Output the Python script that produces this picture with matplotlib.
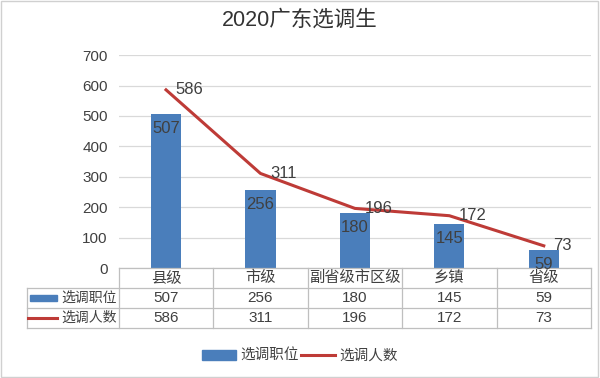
"""2020广东选调生：柱状图 + 折线 + 数据表。"""
import matplotlib
matplotlib.use("Agg")
import matplotlib.pyplot as plt
from matplotlib.patches import Rectangle
from matplotlib.lines import Line2D
from matplotlib.transforms import blended_transform_factory

plt.rcParams["font.family"] = ["Liberation Sans", "Noto Sans CJK SC", "DejaVu Sans"]

# 数据
categories = ["县级", "市级", "副省级市区级", "乡镇", "省级"]
positions = [507, 256, 180, 145, 59]   # 选调职位
people = [586, 311, 196, 172, 73]      # 选调人数
series_names = ["选调职位", "选调人数"]
y_ticks = [0, 100, 200, 300, 400, 500, 600, 700]

BLUE = "#4A7EBB"
RED = "#BE3B37"
GRID = "#D9D9D9"
TABLE_LINE = "#BFBFBF"
TEXT = "#404040"
FS = 11

fig = plt.figure(figsize=(6, 3.78), dpi=100)
ax = fig.add_axes([0.198, 0.291, 0.787, 0.563])

x = list(range(len(categories)))
ax.bar(x, positions, width=0.32, color=BLUE, zorder=2)
ax.plot(x, people, color=RED, linewidth=2.2, zorder=3)

for xi, v in zip(x, positions):
    ax.annotate(f"{v}", xy=(xi, v), xytext=(0, -5), textcoords="offset points",
                ha="center", va="top", fontsize=12, color=TEXT, zorder=4)
for xi, v in zip(x, people):
    ax.annotate(f"{v}", xy=(xi, v), xytext=(7, 0), textcoords="offset points",
                ha="left", va="center", fontsize=12, color=TEXT, zorder=4)

ax.set_xlim(-0.5, len(categories) - 0.5)
ax.set_ylim(0, 700)
ax.set_yticks(y_ticks)
ax.set_yticklabels([str(t) for t in y_ticks], fontsize=FS, color=TEXT)
ax.tick_params(axis="y", length=0, pad=8)
ax.set_xticks([])
ax.grid(axis="y", color=GRID, linewidth=0.9, zorder=0)
for s in ax.spines.values():
    s.set_visible(False)

fig.text(0.5, 0.947, "2020广东选调生", ha="center", va="center",
         fontsize=15.5, color="#333333")

# 数据表
tr = blended_transform_factory(ax.transData, ax.transAxes)
row_h = 0.094
left = -0.195
rows = [positions, people]

# 水平线
ax.plot([0, 1], [0, 0], transform=ax.transAxes, color=TABLE_LINE, lw=0.9, clip_on=False)
for k in range(1, 4):
    ax.plot([left, 1], [-k * row_h] * 2, transform=ax.transAxes,
            color=TABLE_LINE, lw=0.9, clip_on=False)
# 竖线
ax.plot([left, left], [-row_h, -3 * row_h], transform=ax.transAxes,
        color=TABLE_LINE, lw=0.9, clip_on=False)
for b in [i - 0.5 for i in range(len(categories) + 1)]:
    ax.plot([b, b], [0, -3 * row_h], transform=tr, color=TABLE_LINE, lw=0.9, clip_on=False)

for xi, c in zip(x, categories):
    ax.text(xi, -0.5 * row_h, c, transform=tr, ha="center", va="center",
            fontsize=FS, color=TEXT)
for r, vals in enumerate(rows):
    yc = -(r + 1.5) * row_h
    for xi, v in zip(x, vals):
        ax.text(xi, yc, f"{v}", transform=tr, ha="center", va="center",
                fontsize=FS, color=TEXT)
    ax.text(left + 0.074, yc, series_names[r], transform=ax.transAxes,
            ha="left", va="center", fontsize=10, color=TEXT)

# 表内图例标记
ax.add_patch(Rectangle((left + 0.008, -1.5 * row_h - 0.014), 0.057, 0.028,
                       transform=ax.transAxes, color=BLUE, clip_on=False))
ax.plot([left + 0.002, left + 0.065], [-2.5 * row_h] * 2, transform=ax.transAxes,
        color=RED, lw=2.2, clip_on=False)

# 底部图例
handles = [Rectangle((0, 0), 1, 1, color=BLUE),
           Line2D([0], [0], color=RED, lw=2.2)]
fig.legend(handles, series_names, loc="center", bbox_to_anchor=(0.5, 0.058),
           ncol=2, frameon=False, fontsize=10.5, handlelength=2.3,
           handletextpad=0.3, columnspacing=0.2, labelcolor=TEXT)

# 外框
fig.patches.append(Rectangle((0.002, 0.003), 0.995, 0.994, transform=fig.transFigure,
                             fill=False, edgecolor="#D0D0D0", lw=1))

fig.savefig("out.png", dpi=100, facecolor="white")
plt.close(fig)
